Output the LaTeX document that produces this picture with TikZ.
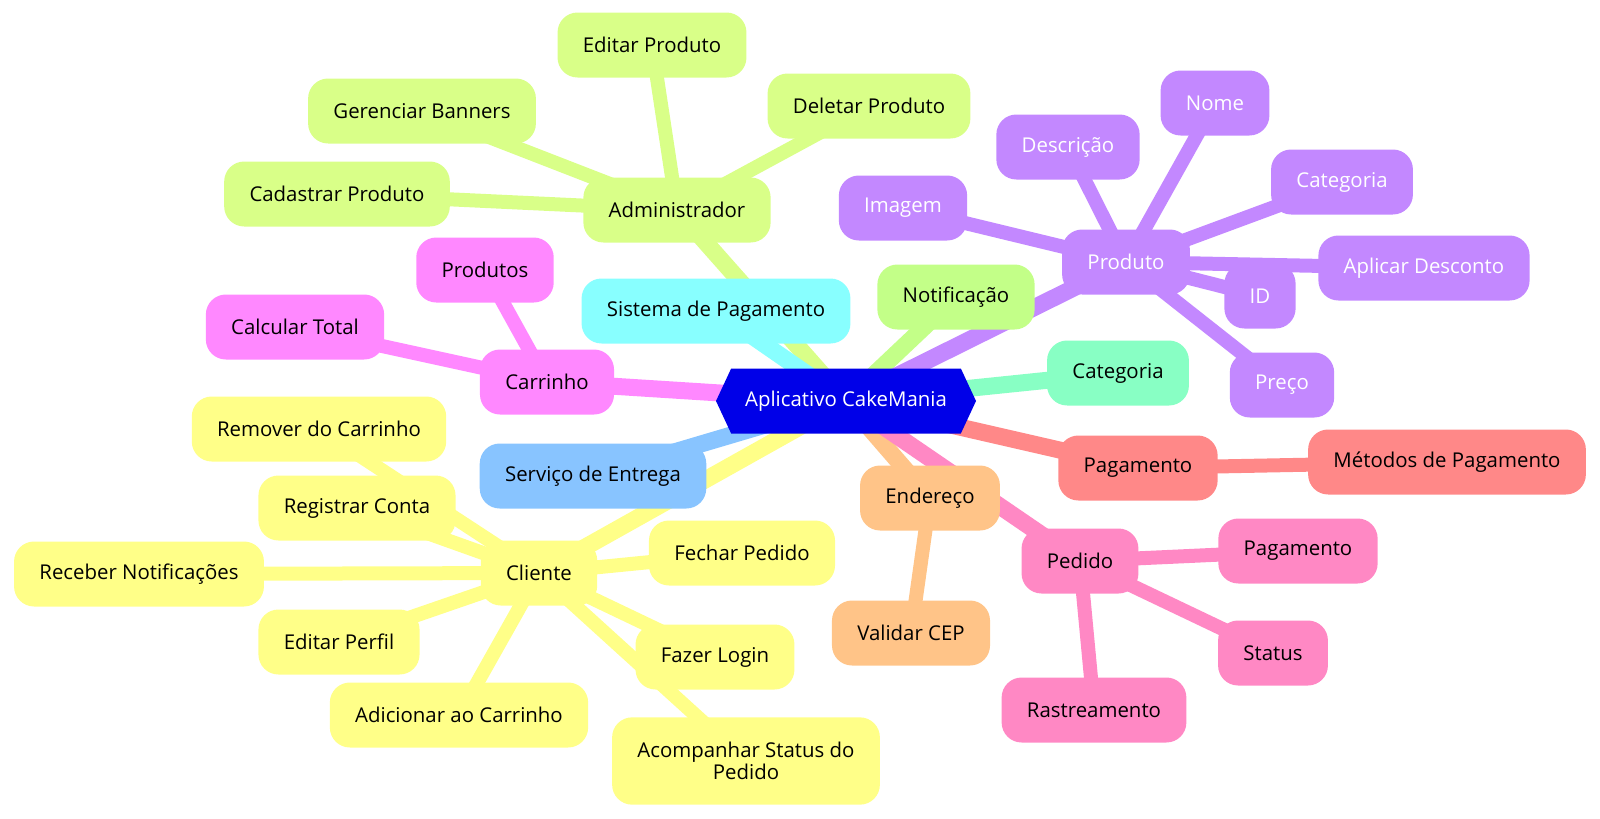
\documentclass[tikz,border=0pt]{standalone}
\usepackage{fontspec}
\setmainfont{Open Sans}
\usetikzlibrary{shapes.symbols, backgrounds}
\definecolor{rootblue}{HTML}{0000E8}
\definecolor{cyanc}{HTML}{88FFFF}
\definecolor{limec}{HTML}{D9FF88}
\definecolor{greenc}{HTML}{C3FF88}
\definecolor{tealc}{HTML}{88FFC4}
\definecolor{purplec}{HTML}{C388FF}
\definecolor{redc}{HTML}{FF8888}
\definecolor{pinkc}{HTML}{FF88C4}
\definecolor{orangec}{HTML}{FFC488}
\definecolor{yellowc}{HTML}{FFFF88}
\definecolor{bluec}{HTML}{88C4FF}
\definecolor{magentac}{HTML}{FF88FF}
\tikzstyle{rootnode} = [
	signal,
	signal to=east and west,
	signal pointer angle=130,
	minimum width=195pt,
	minimum height=48.75pt,
	fill=rootblue,
	text=white,
	font=\fontsize{15.3}{16.5}\selectfont,
]
\tikzstyle{defaultnode} = [
	rectangle,
	rounded corners=15pt,
	minimum height=48.75pt,
	inner xsep=19pt,
	text centered,
	font=\fontsize{15.3}{16.4}\selectfont,
]
\tikzstyle{edgetop} = [line width=12.75pt]
\tikzstyle{edgeleaf} = [line width=10.5pt]

\begin{document}
\begin{tikzpicture}[x=0.75pt, y=-0.75pt]
		\useasboundingbox (0,0) rectangle (1600,818);
		\node (root) [rootnode] at (846,401) {Aplicativo CakeMania};

		\node (admin) [defaultnode, fill=limec] at (677,210) {Administrador};
		\node (editprod) [defaultnode, fill=limec] at (652,45) {Editar Produto};
		\node (banners) [defaultnode, fill=limec] at (422,111) {Gerenciar Banners};
		\node (delprod) [defaultnode, fill=limec] at (869,106) {Deletar Produto};
		\node (cadprod) [defaultnode, fill=limec] at (337,194) {Cadastrar Produto};

		\node (sistpag) [defaultnode, fill=cyanc] at (716,311) {Sistema de Pagamento};
		\node (notif) [defaultnode, fill=greenc] at (956,297) {Notificação};

		\node (produto) [defaultnode, fill=purplec, text=white] at (1126,262) {Produto};
		\node (nome) [defaultnode, fill=purplec, text=white] at (1215,103) {Nome};
		\node (descr) [defaultnode, fill=purplec, text=white] at (1068,147) {Descrição};
		\node (catprod) [defaultnode, fill=purplec, text=white] at (1342,182) {Categoria};
		\node (imagem) [defaultnode, fill=purplec, text=white] at (903,208) {Imagem};
		\node (desconto) [defaultnode, fill=purplec, text=white] at (1424,268) {Aplicar Desconto};
		\node (idprod) [defaultnode, fill=purplec, text=white] at (1260,296) {ID};
		\node (preco) [defaultnode, fill=purplec, text=white] at (1282,385) {Preço};

		\node (categoria) [defaultnode, fill=tealc] at (1118,373) {Categoria};

		\node (carrinho) [defaultnode, fill=magentac] at (547,382) {Carrinho};
		\node (produtos) [defaultnode, fill=magentac] at (485,270) {Produtos};
		\node (calctotal) [defaultnode, fill=magentac] at (295,327) {Calcular Total};

		\node (entrega) [defaultnode, fill=bluec] at (593,476) {Serviço de Entrega};

		\node (pagamento) [defaultnode, fill=redc] at (1138,468) {Pagamento};
		\node (metodos) [defaultnode, fill=redc] at (1447,462) {Métodos de Pagamento};

		\node (endereco) [defaultnode, fill=orangec] at (930,498) {Endereço};
		\node (cep) [defaultnode, fill=orangec] at (911,633) {Validar CEP};

		\node (pedido) [defaultnode, fill=pinkc] at (1080,561) {Pedido};
		\node (pedpag) [defaultnode, fill=pinkc] at (1298,551) {Pagamento};
		\node (status) [defaultnode, fill=pinkc] at (1273,653) {Status};
		\node (rastreio) [defaultnode, fill=pinkc] at (1094,710) {Rastreamento};

		\node (cliente) [defaultnode, fill=yellowc] at (539,573) {Cliente};
		\node (remover) [defaultnode, fill=yellowc] at (319,429) {Remover do Carrinho};
		\node (registrar) [defaultnode, fill=yellowc] at (357,508) {Registrar Conta};
		\node (receber) [defaultnode, fill=yellowc] at (139,574) {Receber Notificações};
		\node (fechar) [defaultnode, fill=yellowc] at (742,553) {Fechar Pedido};
		\node (editperfil) [defaultnode, fill=yellowc] at (339,642) {Editar Perfil};
		\node (login) [defaultnode, fill=yellowc] at (715,657) {Fazer Login};
		\node (adicionar) [defaultnode, fill=yellowc] at (459,715) {Adicionar ao Carrinho};
		\node (acompanhar) [defaultnode, fill=yellowc, align=center, minimum height=65.5pt] at (746,761) {Acompanhar Status do\\Pedido};

		\begin{scope}[on background layer]
			\draw [edgetop, limec] (root.center) -- (admin.center);
			\draw [edgeleaf, limec] (admin.center) -- (editprod.center);
			\draw [edgeleaf, limec] (admin.center) -- (banners.center);
			\draw [edgeleaf, limec] (admin.center) -- (delprod.center);
			\draw [edgeleaf, limec] (admin.center) -- (cadprod.center);
			\draw [edgetop, cyanc] (root.center) -- (sistpag.center);
			\draw [edgetop, greenc] (root.center) -- (notif.center);
			\draw [edgetop, purplec] (root.center) -- (produto.center);
			\foreach \leaf in {nome, descr, catprod, imagem, desconto, idprod, preco}
				\draw [edgeleaf, purplec] (produto.center) -- (\leaf.center);
			\draw [edgetop, tealc] (root.center) -- (categoria.center);
			\draw [edgetop, magentac] (root.center) -- (carrinho.center);
			\draw [edgeleaf, magentac] (carrinho.center) -- (produtos.center);
			\draw [edgeleaf, magentac] (carrinho.center) -- (calctotal.center);
			\draw [edgetop, yellowc] (root.center) -- (cliente.center);
			\foreach \leaf in {remover, registrar, receber, fechar, editperfil, login, adicionar, acompanhar}
				\draw [edgeleaf, yellowc] (cliente.center) -- (\leaf.center);
			\draw [edgetop, bluec] (root.center) -- (entrega.center);
			\draw [edgetop, redc] (root.center) -- (pagamento.center);
			\draw [edgeleaf, redc] (pagamento.center) -- (metodos.center);
			\draw [edgetop, orangec] (root.center) -- (endereco.center);
			\draw [edgeleaf, orangec] (endereco.center) -- (cep.center);
			\draw [edgetop, pinkc] (root.center) -- (pedido.center);
			\foreach \leaf in {pedpag, status, rastreio}
				\draw [edgeleaf, pinkc] (pedido.center) -- (\leaf.center);
		\end{scope}
	\end{tikzpicture}
\end{document}
